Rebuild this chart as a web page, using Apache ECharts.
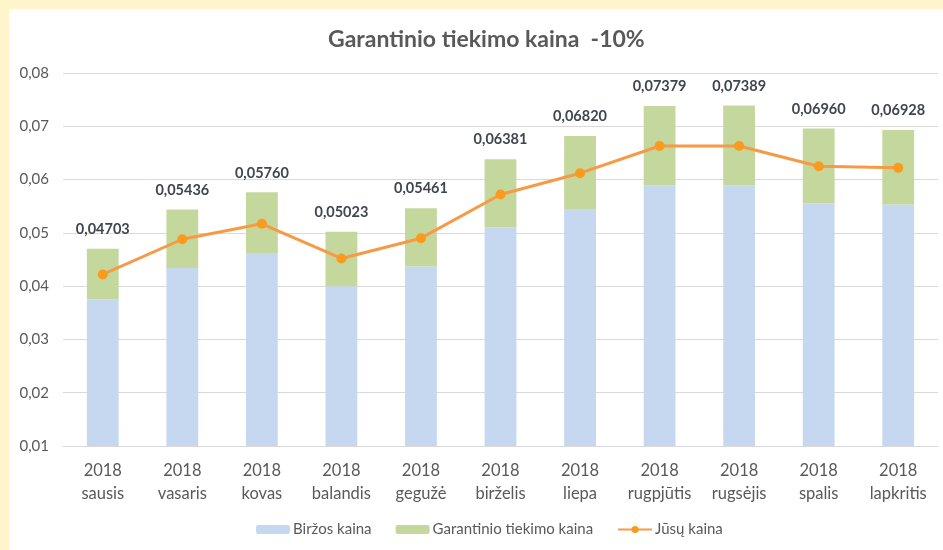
<!DOCTYPE html>
<html>
<head>
<meta charset="UTF-8">
<title></title>
<script src="https://cdn.jsdelivr.net/npm/echarts@6/dist/echarts.min.js"></script>
<style>
  * { margin: 0; padding: 0; }
  body { width: 943px; height: 550px; background: #FFF4CA; position: relative; overflow: hidden; }
  #app { position: absolute; left: 9px; top: 9px; width: 934px; height: 541px; background: #fff; }
</style>
</head>
<body>
<div id="app"></div>
<script>
var years = ['2018', '2018', '2018', '2018', '2018', '2018', '2018', '2018', '2018', '2018', '2018'];
var months = ['sausis', 'vasaris', 'kovas', 'balandis', 'gegužė', 'birželis', 'liepa', 'rugpjūtis', 'rugsėjis', 'spalis', 'lapkritis'];
// Biržos kaina (bottom part of the bar)
var birzos = [0.0375, 0.0434, 0.0462, 0.0400, 0.0437, 0.0510, 0.0545, 0.0589, 0.0589, 0.0555, 0.0553];
// total bar height, shown as the label on top
var totals = [0.04703, 0.05436, 0.05760, 0.05023, 0.05461, 0.06381, 0.06820, 0.07379, 0.07389, 0.06960, 0.06928];
// Jūsų kaina
var jusu = [0.0422, 0.0488, 0.0517, 0.0452, 0.0490, 0.0572, 0.0612, 0.0663, 0.0663, 0.0625, 0.0622];

var categories = months.map(function (m, i) { return years[i] + '\n' + m; });
// green part = total minus the blue part
var garant = totals.map(function (t, i) { return +(t - birzos[i]).toFixed(5); });

var font = 'Lato, "Noto Sans", sans-serif';
var chart = echarts.init(document.getElementById('app'));

chart.setOption({
  animation: false,
  textStyle: { fontFamily: font },
  title: {
    text: 'Garantinio tiekimo kaina  -10%',
    left: 314,
    top: 14,
    textStyle: { fontFamily: font, fontSize: 23, fontWeight: 'bold', color: '#595959' }
  },
  legend: {
    bottom: 8,
    left: 242,
    itemWidth: 34,
    itemHeight: 9,
    itemGap: 24,
    textStyle: { fontFamily: font, fontSize: 15, color: '#595959', padding: [0, 0, 0, -2] },
    data: ['Biržos kaina', 'Garantinio tiekimo kaina', 'Jūsų kaina']
  },
  grid: { left: 54, right: 5, top: 64, bottom: 104 },
  xAxis: {
    type: 'category',
    data: categories,
    axisLine: { lineStyle: { color: '#d9d9d9' } },
    axisTick: { length: 6, lineStyle: { color: '#d9d9d9' } },
    axisLabel: { interval: 0, fontFamily: font, fontSize: 16.5, color: '#595959', lineHeight: 23, margin: 13 }
  },
  yAxis: {
    type: 'value',
    min: 0.01,
    max: 0.08,
    interval: 0.01,
    axisLine: { show: false },
    axisTick: { show: false },
    splitLine: { lineStyle: { color: '#d9d9d9' } },
    axisLabel: {
      fontFamily: font, fontSize: 15, color: '#595959', margin: 14,
      formatter: function (v) { return v.toFixed(2).replace('.', ','); }
    }
  },
  series: [
    {
      name: 'Biržos kaina',
      type: 'bar',
      stack: 'kaina',
      barWidth: '40%',
      itemStyle: { color: '#C6D8EF' },
      data: birzos
    },
    {
      name: 'Garantinio tiekimo kaina',
      type: 'bar',
      stack: 'kaina',
      itemStyle: { color: '#C4D79C' },
      label: {
        show: true,
        position: 'top',
        distance: 12,
        fontFamily: font,
        fontSize: 14.5,
        fontWeight: 'bold',
        color: '#3E4650',
        formatter: function (p) { return totals[p.dataIndex].toFixed(5).replace('.', ','); }
      },
      data: garant
    },
    {
      name: 'Jūsų kaina',
      type: 'line',
      symbol: 'circle',
      symbolSize: 10,
      lineStyle: { color: '#F79A45', width: 3 },
      itemStyle: { color: '#F99B1E' },
      z: 5,
      data: jusu
    }
  ]
});
</script>
</body>
</html>
